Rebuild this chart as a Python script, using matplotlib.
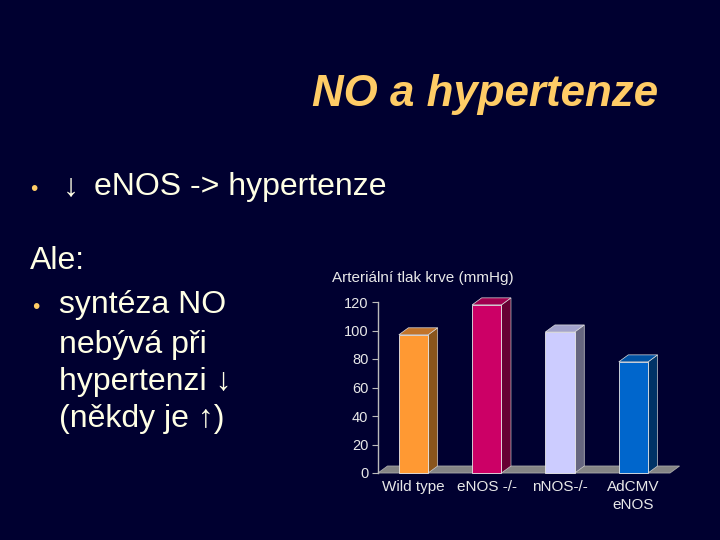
import matplotlib.pyplot as plt
from matplotlib.patches import Polygon

# chart data
categories = ["Wild type", "eNOS -/-", "nNOS-/-", "AdCMV\neNOS"]
pressure = [97, 118, 99, 78]
yticks = [0, 20, 40, 60, 80, 100, 120]
front_colors = ["#FF9933", "#CC0066", "#CCCCFF", "#0066CC"]
side_colors = ["#8A551C", "#660033", "#66667F", "#003366"]
top_colors = ["#C2742A", "#A0004F", "#A3A3CC", "#0052A3"]

BG = "#000030"
TEXT = "#FFFFE5"
ACCENT = "#FFCC66"
FONT = ["Liberation Sans", "DejaVu Sans"]

plt.rcParams["font.family"] = FONT

fig = plt.figure(figsize=(7.2, 5.4), dpi=100, facecolor=BG)

# slide title and text
fig.text(658 / 720, 1 - 106 / 540, "NO a hypertenze", color=ACCENT, fontsize=31.6,
         fontweight="bold", fontstyle="italic", ha="right", va="baseline")

def line(x, y, s, color=TEXT, size=23):
    fig.text(x / 720, 1 - y / 540, s, color=color, fontsize=size, ha="left", va="baseline")

line(30, 195, "•", ACCENT, 15)
line(63, 195, "↓")
line(94, 195, "eNOS -> hypertenze")
line(30, 269, "Ale:")
line(32, 313, "•", ACCENT, 15)
line(59, 313, "syntéza NO")
line(59, 353, "nebývá při")
line(59, 390, "hypertenzi ↓")
line(59, 427, "(někdy je ↑)")

# bar chart area
ax = fig.add_axes([378 / 720, 1 - 473 / 540, 302 / 720, 171 / 540])
ax.set_facecolor("none")
ax.set_xlim(-0.484, 3.636)
ax.set_ylim(0, 120)
for s in ["top", "right", "bottom"]:
    ax.spines[s].set_visible(False)
ax.spines["left"].set_color("#BBBBBB")
ax.spines["left"].set_linewidth(1.0)

dx, dy = 0.13, 4.9
w = 0.4
x = list(range(len(categories)))

# floor
x0 = -0.484
x1 = x0 + 292 / 73.3
ax.add_patch(Polygon([(x0, 0), (x1, 0), (x1 + dx, dy), (x0 + dx, dy)],
                     closed=True, facecolor="#858585", edgecolor="#AAAAAA",
                     linewidth=0.6, zorder=1, clip_on=False))

ax.bar(x, pressure, width=w, color=front_colors, edgecolor="#E8E8E8",
       linewidth=0.6, zorder=3, clip_on=False)
for xi, v, sc, tc in zip(x, pressure, side_colors, top_colors):
    r = xi + w / 2
    l = xi - w / 2
    ax.add_patch(Polygon([(r, 0), (r + dx, dy), (r + dx, v + dy), (r, v)], closed=True,
                         facecolor=sc, edgecolor="#CCCCCC", linewidth=0.5,
                         zorder=2.5, clip_on=False))
    ax.add_patch(Polygon([(l, v), (r, v), (r + dx, v + dy), (l + dx, v + dy)], closed=True,
                         facecolor=tc, edgecolor="#DDDDDD", linewidth=0.5,
                         zorder=2.5, clip_on=False))

ax.set_yticks(yticks)
ax.tick_params(axis="y", colors="#BBBBBB", labelcolor="#E8E8E8", labelsize=10.5,
               length=4, width=0.8, pad=3)
ax.set_xticks(x)
ax.set_xticklabels(categories, color="#E8E8E8", fontsize=11, linespacing=1.35)
ax.tick_params(axis="x", length=0, pad=5)

fig.text(332 / 720, 1 - 282 / 540, "Arteriální tlak krve (mmHg)", color="#E8E8E8",
         fontsize=11, ha="left", va="baseline")

fig.savefig("out.png", dpi=100, facecolor=fig.get_facecolor())
